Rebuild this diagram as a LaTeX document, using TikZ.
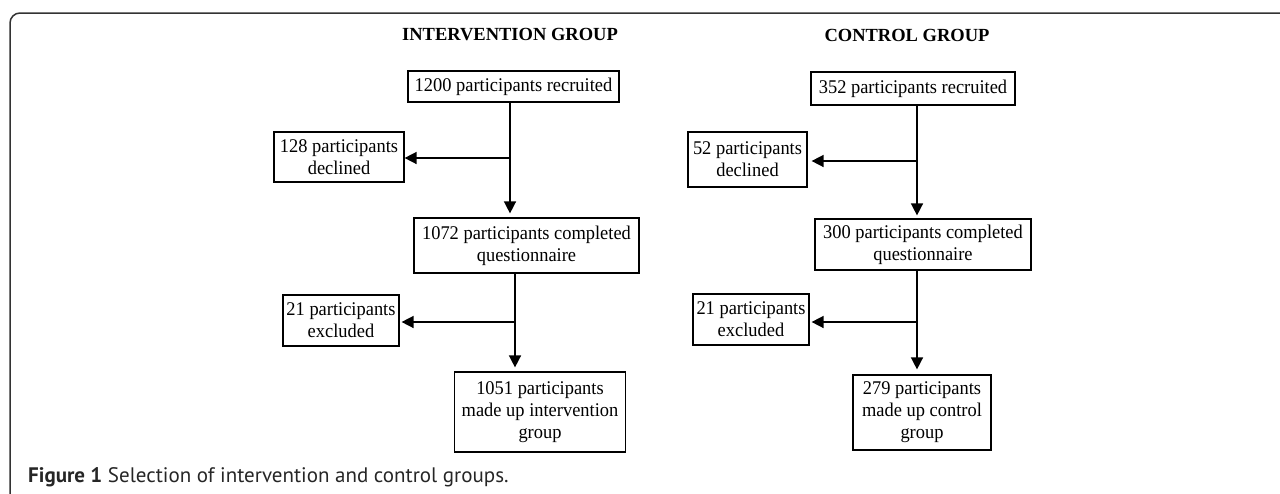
\documentclass[tikz,border=0pt]{standalone}
\usepackage{fontspec}
\setmainfont{Liberation Serif}
\newfontfamily\boxfont[FakeStretch=0.95]{Liberation Serif}
\newfontfamily\capfont{PT Sans}
\usetikzlibrary{arrows.meta}
\begin{document}
\begin{tikzpicture}[x=1pt,y=-1pt,
  box/.style={draw=black, line width=1.2pt, align=center, inner sep=0pt,
    font=\boxfont\fontsize{19.4}{22}\selectfont},
  ttl/.style={font=\fontsize{18.5}{22}\selectfont\bfseries, inner sep=0pt},
  conn/.style={line width=1.5pt},
  arr/.style={conn, -{Triangle[length=12pt,width=12pt]}}
]
\useasboundingbox (0,0) rectangle (1280,493);
\begin{scope}
\clip (0,0) rectangle (1280,493);
\draw[line width=1.5pt, draw=black!80, rounded corners=10pt] (10,520) -- (10,13) -- (1300,13);
\end{scope}

% titles
\node[ttl] (It) at (510,35) {INTERVENTION GROUP};
\node[ttl] (Ct) at (907,35) {CONTROL GROUP};

% intervention group
\node[box, minimum width=211pt, minimum height=31pt] (I1) at (513.5,86.5) {1200 participants recruited};
\node[box, minimum width=130pt, minimum height=50pt] (Id) at (339,157) {128 participants\\declined};
\node[box, minimum width=225pt, minimum height=55pt] (I2) at (526.5,245.5) {1072 participants completed\\questionnaire};
\node[box, minimum width=116pt, minimum height=51pt] (Ie) at (341,320.5) {21 participants\\excluded};
\node[box, minimum width=171pt, minimum height=80pt] (I3) at (540,412) {1051 participants\\made up intervention\\group};

\coordinate (Ib1) at (510,158);
\coordinate (Ib2) at (515,322);
\draw[conn] (Ib1 |- I1.south) -- (Ib1);
\draw[arr] (Ib1) -- (Ib1 -| Id.east);
\draw[arr, shorten >=4pt] (Ib1) -- (Ib1 |- I2.north);
\draw[conn] (Ib2 |- I2.south) -- (Ib2);
\draw[arr, shorten >=2pt] (Ib2) -- (Ib2 -| Ie.east);
\draw[arr, shorten >=4pt] (Ib2) -- (Ib2 |- I3.north);

% control group
\node[box, minimum width=204pt, minimum height=33pt] (C1) at (913,88.5) {352 participants recruited};
\node[box, minimum width=119pt, minimum height=55pt] (Cd) at (747.5,159.5) {52 participants\\declined};
\node[box, minimum width=216pt, minimum height=51pt] (C2) at (923,244.5) {300 participants completed\\questionnaire};
\node[box, minimum width=116pt, minimum height=51pt] (Ce) at (751,319.5) {21 participants\\excluded};
\node[box, minimum width=138pt, minimum height=75pt] (C3) at (922,412.5) {279 participants\\made up control\\group};

\coordinate (Cb1) at (917,161);
\coordinate (Cb2) at (917,322);
\draw[conn] (Cb1 |- C1.south) -- (Cb1);
\draw[arr, shorten >=4pt] (Cb1) -- (Cb1 -| Cd.east);
\draw[arr, shorten >=3pt] (Cb1) -- (Cb1 |- C2.north);
\draw[conn] (Cb2 |- C2.south) -- (Cb2);
\draw[arr, shorten >=2pt] (Cb2) -- (Cb2 -| Ce.east);
\draw[arr, shorten >=5pt] (Cb2) -- (Cb2 |- C3.north);

% caption
\node[anchor=base west, inner sep=0pt, text=black!85, font=\capfont\fontsize{21}{24}\selectfont] (cap) at (28,482) {\textbf{Figure 1} Selection of intervention and control groups.};
\end{tikzpicture}
\end{document}
